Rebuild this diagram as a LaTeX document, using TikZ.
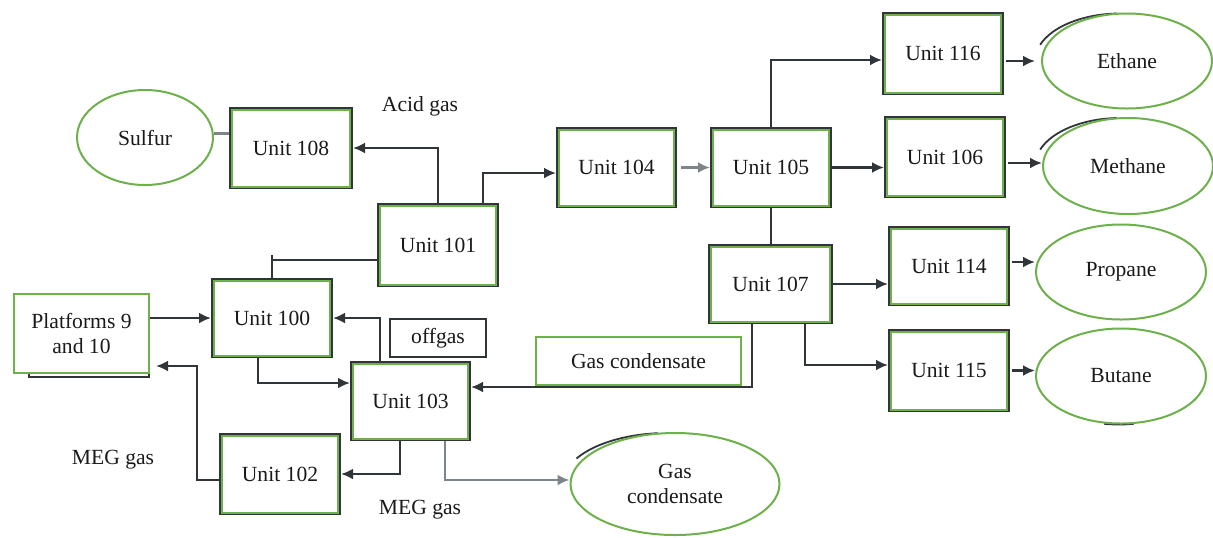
\documentclass[tikz,border=0pt]{standalone}
\usepackage{fontspec}
\setmainfont{Liberation Serif}
\usetikzlibrary{shapes.geometric,arrows.meta}
\definecolor{dk}{HTML}{2F3539}
\definecolor{gr}{HTML}{6DB04C}
\definecolor{gy}{HTML}{7D858B}
\definecolor{tx}{HTML}{1A1A1A}
\newcommand\ginner[1]{\draw[gin] ([shift={(3,3)}]#1.north west) rectangle ([shift={(-3,-2)}]#1.south east);}
\begin{document}
\begin{tikzpicture}[x=0.5pt,y=-0.5pt,
  every node/.style={text=tx,font=\fontsize{10.8}{12.5}\selectfont},
  box/.style={draw=dk,line width=1pt,rectangle,inner sep=0pt,fill=white},
  gbox/.style={draw=gr,line width=1pt,rectangle,inner sep=0pt,fill=white,align=center},
  oval/.style={ellipse,draw=gr,line width=1pt,inner sep=0pt,fill=white,align=center},
  ln/.style={draw=dk,line width=1.2pt},
  arr/.style={ln,-{Latex[length=6pt,width=5.5pt]}},
  garr/.style={draw=gy,line width=1.2pt,-{Latex[length=6pt,width=5.5pt]}},
  gln/.style={draw=gy,line width=1.2pt},
  gin/.style={draw=gr,line width=1pt},
  shd/.style={draw=dk,line width=0.9pt},
  lbl/.style={inner sep=0pt}]
\useasboundingbox (0,0) rectangle (1213,537);

% ellipse shadows
\draw[shd] (1120,61) ++(268:85 and 47.5) arc[start angle=268,end angle=200,x radius=85,y radius=47.5];
\draw[shd] (1120,166) ++(268:85 and 48) arc[start angle=268,end angle=200,x radius=85,y radius=48];
\draw[shd] (1119,377) ++(80:85 and 47.5) arc[start angle=80,end angle=100,x radius=85,y radius=47.5];
\draw[shd] (667,484) ++(265:104.5 and 51) arc[start angle=265,end angle=210,x radius=104.5,y radius=51];

% ellipses
\node[oval,minimum width=68pt,minimum height=47.5pt] (sulfur) at (145,137.5) {Sulfur};
\node[oval,minimum width=85pt,minimum height=47.5pt] (eth) at (1127,61) {Ethane};
\node[oval,minimum width=85pt,minimum height=48pt] (meth) at (1128,166) {Methane};
\node[oval,minimum width=85pt,minimum height=47.5pt] (prop) at (1121,272) {Propane};
\node[oval,minimum width=85pt,minimum height=47.5pt] (but) at (1121,376) {Butane};
\node[oval,minimum width=104.5pt,minimum height=51pt] (gce) at (675,484) {Gas\\condensate};

% boxes
\node[box,minimum width=61pt,minimum height=40pt] (u108) at (291,148) {Unit 108}; \ginner{u108}
\node[box,minimum width=60pt,minimum height=41pt] (u101) at (438,245) {Unit 101}; \ginner{u101}
\node[box,minimum width=60pt,minimum height=39pt] (u100) at (272,318) {Unit 100}; \ginner{u100}
\draw[shd] (29,300) rectangle (149,377);
\node[gbox,minimum width=67.5pt,minimum height=39.5pt] (plat) at (81.5,333.5) {Platforms 9\\and 10};
\node[box,minimum width=48pt,minimum height=19pt] (offgas) at (438,338) {offgas};
\node[box,minimum width=59.5pt,minimum height=39pt] (u103) at (410.5,401) {Unit 103}; \ginner{u103}
\node[box,minimum width=60pt,minimum height=40pt] (u102) at (280,474) {Unit 102}; \ginner{u102}
\node[box,minimum width=59.5pt,minimum height=39.5pt] (u104) at (616.5,167.5) {Unit 104}; \ginner{u104}
\node[box,minimum width=60pt,minimum height=39.5pt] (u105) at (771,167.5) {Unit 105}; \ginner{u105}
\node[box,minimum width=60pt,minimum height=40.5pt] (u116) at (943,53.5) {Unit 116}; \ginner{u116}
\node[box,minimum width=60pt,minimum height=40pt] (u106) at (945,157) {Unit 106}; \ginner{u106}
\node[box,minimum width=61.5pt,minimum height=39pt] (u107) at (770.5,284) {Unit 107}; \ginner{u107}
\node[box,minimum width=60pt,minimum height=39pt] (u114) at (949,266) {Unit 114}; \ginner{u114}
\node[box,minimum width=60pt,minimum height=40.5pt] (u115) at (949,370.5) {Unit 115}; \ginner{u115}
\node[gbox,minimum width=102.5pt,minimum height=24pt] (gcbox) at (638.5,361) {Gas condensate};

% labels
\node[lbl] (acid) at (420,106) {Acid gas};
\node[lbl] (meg1) at (113,460) {MEG gas};
\node[lbl] (meg2) at (420,510) {MEG gas};

% connectors
\coordinate (s1) at ([yshift=2pt]sulfur.east);
\draw[gln] (s1) -- (s1 -| u108.west);
\draw[arr] (u101.north) |- (u108.east);
\draw[arr] ([xshift=22.5pt]u101.north) |- ([yshift=-2.75pt]u104.west);
\coordinate (t1) at ([yshift=-7.5pt]u101.west);
\draw[ln] (t1) -- (t1 -| u100.north);
\draw[ln] (u100.north) -- ++(0,-23);
\draw[arr] (plat.east |- u100.west) -- (u100.west);
\coordinate (megturn) at (197,366);
\draw[arr] ([yshift=-3pt]u102.west) -| (megturn) -- ([xshift=3pt]plat.east |- megturn);
\draw[arr] ([xshift=-7pt]u100.south) |- ([yshift=9pt]u103.west);
\draw[arr] ([xshift=-15.25pt]u103.north) |- (u100.east);
\draw[arr] ([xshift=-5.25pt]u103.south) |- (u102.east);
\draw[garr] ([xshift=17.25pt]u103.south) |- ([yshift=2pt]gce.west);
\draw[arr] ([xshift=-9.25pt]u107.south) |- ([yshift=7pt]u103.east);
\draw[garr] ([xshift=2pt]u104.east) -- (u105.west);
\draw[arr] (u105.north) |- ([yshift=-3.25pt]u116.west);
\draw[arr] (u105.east) -- (u105.east -| u106.west);
\draw[ln] (u105.south) -- (u105.south |- u107.north);
\draw[arr] (u107.east) -- (u107.east -| u114.west);
\draw[arr] ([xshift=17.25pt]u107.south) |- ([yshift=2.75pt]u115.west);
\coordinate (e1) at ([xshift=1pt]eth.west -| u116.east);
\draw[arr] (e1) -- ([xshift=-3pt]eth.west);
\coordinate (m1) at ([xshift=1pt,yshift=1.5pt]meth.west -| u106.east);
\draw[arr] (m1) -- (m1 -| meth.west);
\coordinate (p1) at ([xshift=1pt,yshift=2pt]u114.east);
\draw[arr] (p1) -- (p1 -| prop.west);
\coordinate (b1) at ([xshift=1pt]u115.east);
\draw[arr] (b1) -- (b1 -| but.west);
\end{tikzpicture}
\end{document}
